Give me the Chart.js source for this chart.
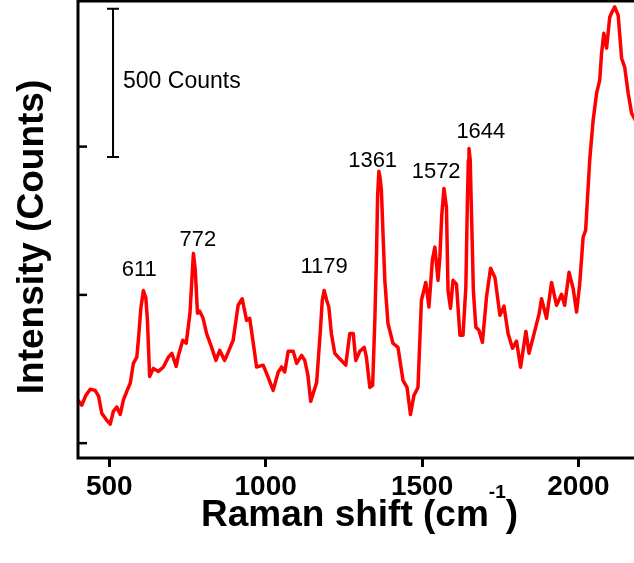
<!DOCTYPE html>
<html><head><meta charset="utf-8">
<script src="https://cdn.jsdelivr.net/npm/chart.js@4"></script>
<style>
html,body{margin:0;padding:0;background:#fff;overflow:hidden;width:634px;height:563px}
#wrap{position:absolute;left:0;top:0;width:660px;height:563px}
</style>
</head><body>
<div id="wrap"><canvas id="c" width="660" height="563"></canvas></div>
<script>
// Raman shift (cm-1) and intensity (counts)
const ramanShift = [400,412,425,439,455,466,476,492,503,513,524,535,545,556,567,577,588,593,601,609,617,622,629,641,657,673,689,700,714,721,735,746,758,764,769,775,782,789,800,811,827,841,853,869,880,896,912,925,939,949,959,971,992,1008,1024,1040,1051,1061,1072,1088,1099,1115,1125,1135,1144,1163,1175,1181,1187,1195,1202,1210,1221,1232,1242,1256,1269,1280,1288,1301,1315,1322,1333,1342,1349,1354,1358,1362,1366,1370,1376,1381,1391,1407,1423,1439,1452,1463,1474,1487,1498,1512,1522,1533,1541,1551,1557,1563,1570,1578,1583,1591,1599,1610,1621,1631,1640,1645,1648,1650,1654,1657,1661,1664,1672,1682,1693,1706,1719,1733,1749,1762,1775,1789,1802,1815,1832,1842,1860,1874,1882,1898,1914,1930,1946,1956,1970,1983,1994,2004,2015,2023,2036,2047,2058,2068,2074,2081,2090,2100,2107,2116,2127,2138,2148,2159,2170,2177,2190,2200];
const intensity = [645,628,661,682,678,658,601,577,564,607,622,597,645,675,702,769,790,847,955,1015,989,914,725,752,742,757,790,803,759,796,847,837,938,1049,1140,1083,938,945,921,870,824,779,813,779,806,847,965,987,914,921,847,757,763,722,678,739,757,740,810,810,769,796,779,729,641,705,881,982,1015,982,959,870,803,790,779,763,870,870,779,810,823,790,688,695,914,1117,1336,1417,1393,1353,1184,1049,904,837,823,712,688,597,661,688,982,1042,959,1117,1161,1049,1128,1268,1359,1295,1015,955,1049,1036,864,864,1026,1319,1454,1494,1454,1319,1150,1015,891,881,840,992,1090,1059,931,962,870,820,844,756,877,803,877,935,987,921,1042,965,1002,965,1076,1022,942,1036,1195,1218,1454,1589,1680,1724,1815,1882,1832,1936,1953,1971,1943,1798,1767,1680,1612,1599,1572,1555];

const xTickValues = [500, 1000, 1500, 2000];
const yTickValues = [500, 1000, 1500];
const peakNames = ['611', '772', '1179', '1361', '1572', '1644'];
const scaleBarText = '500 Counts';
const xTitleMain = 'Raman shift (cm';
const xTitleSup = '-1';
const xTitleEnd = ')';
const yTitleText = 'Intensity (Counts)';

const FONT = '"Liberation Sans", Arial, sans-serif';

// annotation placement (data coordinates)
const annot = {
  peakX: [596, 783, 1187, 1342, 1545, 1688],
  peakY: [1063, 1166, 1073, 1430, 1393, 1530],
  barX: 512, barY0: 1465, barY1: 1965,
  barTextX: 544, barTextY: 1699
};

const decor = {
  id: 'decor',
  afterDraw(chart) {
    const ctx = chart.ctx, a = chart.chartArea, xs = chart.scales.x, ys = chart.scales.y;
    ctx.save();
    ctx.strokeStyle = '#000';
    ctx.fillStyle = '#000';
    // frame
    ctx.lineWidth = 3;
    ctx.strokeRect(a.left, a.top, a.right - a.left, a.bottom - a.top);
    // inward y ticks
    ctx.lineWidth = 2.5;
    yTickValues.forEach(v => {
      const py = ys.getPixelForValue(v);
      ctx.beginPath(); ctx.moveTo(a.left, py); ctx.lineTo(a.left + 9, py); ctx.stroke();
    });
    // scale bar
    const bx = xs.getPixelForValue(annot.barX);
    const by0 = ys.getPixelForValue(annot.barY0), by1 = ys.getPixelForValue(annot.barY1);
    ctx.lineWidth = 2;
    ctx.beginPath();
    ctx.moveTo(bx, by0); ctx.lineTo(bx, by1);
    ctx.moveTo(bx - 6, by0); ctx.lineTo(bx + 6, by0);
    ctx.moveTo(bx - 6, by1); ctx.lineTo(bx + 6, by1);
    ctx.stroke();
    ctx.font = '23px ' + FONT;
    ctx.textAlign = 'left'; ctx.textBaseline = 'alphabetic';
    ctx.fillText(scaleBarText, xs.getPixelForValue(annot.barTextX), ys.getPixelForValue(annot.barTextY));
    // peak labels
    ctx.font = '22px ' + FONT;
    ctx.textAlign = 'center';
    peakNames.forEach((t, i) => {
      ctx.fillText(t, xs.getPixelForValue(annot.peakX[i]), ys.getPixelForValue(annot.peakY[i]));
    });
    // x title with superscript
    const mainFont = 'bold 37px ' + FONT, supFont = 'bold 19px ' + FONT;
    ctx.font = mainFont; const w1 = ctx.measureText(xTitleMain).width; const w3 = ctx.measureText(xTitleEnd).width;
    ctx.font = supFont; const w2 = ctx.measureText(xTitleSup).width;
    const cx = (a.left + a.right) / 2;
    let sx = cx - (w1 + w2 + w3) / 2;
    const base = 526;
    ctx.textAlign = 'left';
    ctx.font = mainFont; ctx.fillText(xTitleMain, sx, base); sx += w1;
    ctx.font = supFont; ctx.fillText(xTitleSup, sx, base - 28); sx += w2;
    ctx.font = mainFont; ctx.fillText(xTitleEnd, sx, base);
    // y title
    ctx.save();
    ctx.translate(33, 237);
    ctx.rotate(-Math.PI / 2);
    ctx.font = mainFont; ctx.textAlign = 'center'; ctx.textBaseline = 'middle';
    ctx.fillText(yTitleText, 0, 0);
    ctx.restore();
    ctx.restore();
  }
};

new Chart(document.getElementById('c'), {
  type: 'line',
  data: {
    datasets: [{
      data: ramanShift.map((s, i) => ({ x: s, y: intensity[i] })),
      borderColor: '#ff0000',
      borderWidth: 3.5,
      borderJoinStyle: 'round',
      borderCapStyle: 'round',
      pointRadius: 0,
      tension: 0,
      fill: false
    }]
  },
  options: {
    responsive: false,
    animation: false,
    devicePixelRatio: 1,
    layout: { padding: { left: 78, right: 19, top: 1, bottom: 0 } },
    plugins: { legend: { display: false }, tooltip: { enabled: false } },
    scales: {
      x: {
        type: 'linear', min: 400, max: 2200,
        afterBuildTicks: s => { s.ticks = xTickValues.map(v => ({ value: v })); },
        afterFit: s => { s.height = 105; },
        grid: { display: true, drawOnChartArea: false, drawTicks: true, tickLength: 9, lineWidth: 3, tickWidth: 3, tickColor: '#000', color: '#000' },
        border: { display: false },
        ticks: { color: '#000', padding: 3, maxRotation: 0, autoSkip: false,
                 font: { family: FONT, size: 28, weight: 'bold' },
                 callback: v => String(v) }
      },
      y: {
        type: 'linear', min: 450, max: 1991,
        afterBuildTicks: s => { s.ticks = yTickValues.map(v => ({ value: v })); },
        afterFit: s => { s.width = 0; },
        grid: { display: false }, border: { display: false }, ticks: { display: false }
      }
    }
  },
  plugins: [decor]
});
</script>
</body></html>
